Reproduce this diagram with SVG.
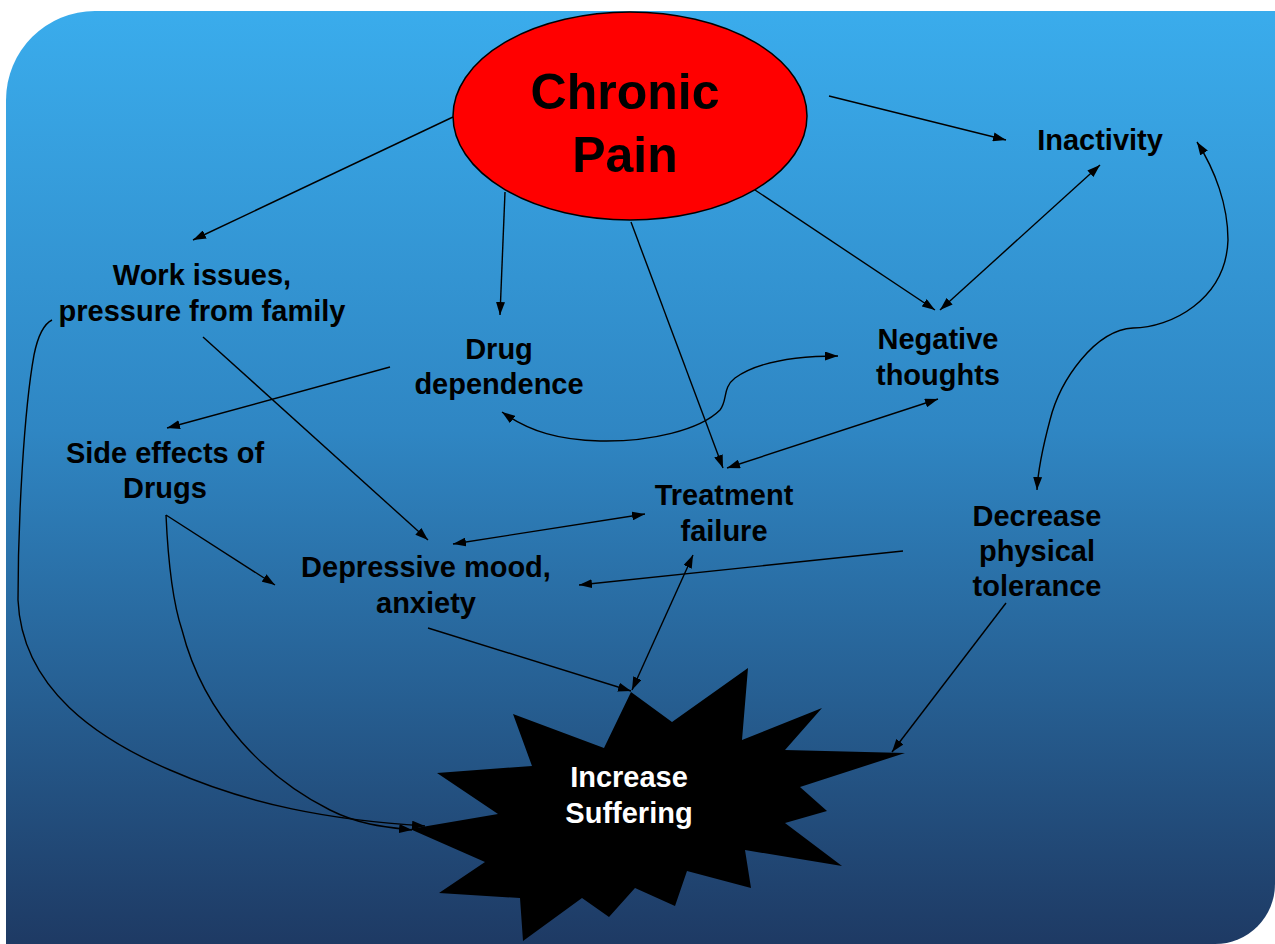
<svg xmlns="http://www.w3.org/2000/svg" width="1275" height="944" viewBox="0 0 1275 944">
<defs>
<linearGradient id="bg" gradientUnits="userSpaceOnUse" x1="0" y1="11" x2="0" y2="944">
<stop offset="0" stop-color="#3AACEC"/>
<stop offset="0.45" stop-color="#2F86C3"/>
<stop offset="1" stop-color="#1E3A64"/>
</linearGradient>
<marker id="ah" viewBox="0 0 13 9" refX="13" refY="4.5" markerWidth="13" markerHeight="9" markerUnits="userSpaceOnUse" orient="auto-start-reverse">
<path d="M0,0 L13,4.5 L0,9 Z" fill="#000"/>
</marker>
<style>
.lbl{font-family:"Liberation Sans",Arial,sans-serif;font-weight:bold;font-size:29px;fill:#000;text-anchor:middle}
.c{fill:none;stroke:#000;stroke-width:1.4}
.a{marker-end:url(#ah)}
.b{marker-start:url(#ah);marker-end:url(#ah)}
</style>
</defs>
<rect x="0" y="0" width="1275" height="944" fill="#fff"/>
<path d="M6,944 V100 A89,89 0 0 1 95,11 H1275 V884 A60,60 0 0 1 1215,944 Z" fill="url(#bg)"/>

<g id="connectors">
<line class="c a" x1="829" y1="96" x2="1006" y2="140"/>
<line class="c a" x1="453" y1="117" x2="193" y2="240"/>
<line class="c a" x1="505" y1="192" x2="500" y2="315"/>
<line class="c a" x1="631" y1="222" x2="723" y2="468"/>
<line class="c a" x1="755" y1="190" x2="935" y2="310"/>
<line class="c b" x1="1100" y1="165" x2="940" y2="310"/>
<line class="c a" x1="390" y1="367" x2="167" y2="428"/>
<line class="c a" x1="203" y1="337" x2="428" y2="540"/>
<path class="c b" d="M502,412 C530,432 560,440 600,441 C650,442 700,430 720,410 C728,400 722,388 735,378 C760,360 800,356 838,356"/>
<line class="c b" x1="938" y1="399" x2="727" y2="468"/>
<path class="c b" d="M1197,142 C1215,170 1228,205 1228,240 C1226,300 1170,328 1133,328 C1095,330 1060,380 1050,420 C1042,450 1038,470 1037,490"/>
<line class="c a" x1="166" y1="515" x2="275" y2="585"/>
<line class="c b" x1="453" y1="544" x2="645" y2="514"/>
<line class="c a" x1="903" y1="551" x2="579" y2="585"/>
<line class="c b" x1="693" y1="555" x2="632" y2="690"/>
<line class="c a" x1="428" y1="628" x2="631" y2="691"/>
<line class="c a" x1="1006" y1="603" x2="892" y2="752"/>
<path class="c a" d="M52,320 C44,324 38,335 34,355 C24,410 18,520 18,600 C22,690 100,740 170,770 C250,805 330,820 425,826"/>
<path class="c a" d="M166,515 C168,560 172,600 182,630 C205,720 270,780 330,810 C360,825 385,827 412,830"/>
</g>

<g id="chronic-pain">
<ellipse cx="630" cy="116" rx="177" ry="104" fill="#FF0000" stroke="#000" stroke-width="1.5"/>
<text class="lbl" x="625" y="109" style="font-size:50px">Chronic</text>
<text class="lbl" x="625" y="172" style="font-size:50px">Pain</text>
</g>

<g id="increase-suffering">
<polygon fill="#000" points="631,692 672,722 748,668 742,740 822,708 785,750 905,753 800,787 827,811 785,823 842,866 745,850 751,888 687,871 675,906 635,888 609,917 582,898 523,941 520,898 439,893 485,862 410,829 498,814 437,773 532,766 513,714 604,748"/>
<text class="lbl" x="629" y="787" style="fill:#fff">Increase</text>
<text class="lbl" x="629" y="823" style="fill:#fff">Suffering</text>
</g>

<g id="inactivity"><text class="lbl" x="1100" y="150">Inactivity</text></g>
<g id="work-issues">
<text class="lbl" x="202" y="285">Work issues,</text>
<text class="lbl" x="202" y="321">pressure from family</text>
</g>
<g id="drug-dependence">
<text class="lbl" x="499" y="359">Drug</text>
<text class="lbl" x="499" y="394">dependence</text>
</g>
<g id="negative-thoughts">
<text class="lbl" x="938" y="349">Negative</text>
<text class="lbl" x="938" y="385">thoughts</text>
</g>
<g id="side-effects">
<text class="lbl" x="165" y="463">Side effects of</text>
<text class="lbl" x="165" y="498">Drugs</text>
</g>
<g id="treatment-failure">
<text class="lbl" x="724" y="505">Treatment</text>
<text class="lbl" x="724" y="541">failure</text>
</g>
<g id="depressive-mood">
<text class="lbl" x="426" y="577">Depressive mood,</text>
<text class="lbl" x="426" y="613">anxiety</text>
</g>
<g id="decrease-tolerance">
<text class="lbl" x="1037" y="526">Decrease</text>
<text class="lbl" x="1037" y="561">physical</text>
<text class="lbl" x="1037" y="596">tolerance</text>
</g>
</svg>
